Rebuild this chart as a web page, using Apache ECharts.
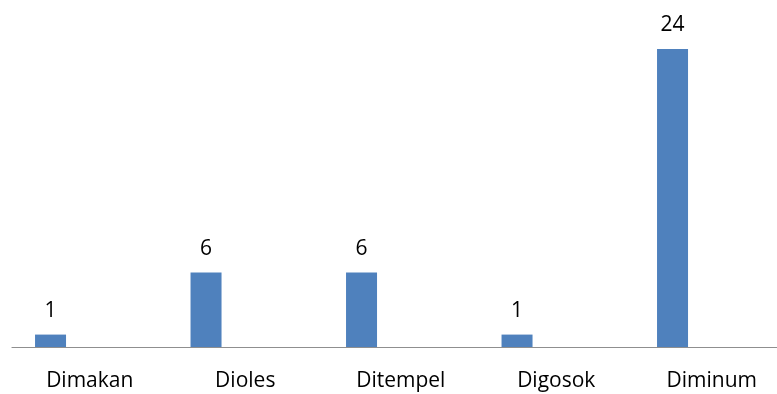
<!DOCTYPE html>
<html>
<head>
<meta charset="utf-8">
<script src="https://cdn.jsdelivr.net/npm/echarts@6/dist/echarts.min.js"></script>
<style>
  html, body { margin: 0; padding: 0; background: #ffffff; overflow: hidden; }
  /* the plot area runs a little past the right edge of the window */
  #chart { width: 790px; height: 394px; }
</style>
</head>
<body>
<div id="chart"></div>
<script>
// Cara penggunaan
const categories = ['Dimakan', 'Dioles', 'Ditempel', 'Digosok', 'Diminum'];
const counts = [1, 6, 6, 1, 24];
const emptySeries = [null, null, null, null, null];

const chart = echarts.init(document.getElementById('chart'), null, { renderer: 'canvas' });
const fontFamily = '"Open Sans", sans-serif';

chart.setOption({
  animation: false,
  backgroundColor: '#ffffff',
  grid: { left: 12, right: 0.5, top: 49, bottom: 47, containLabel: false },
  xAxis: {
    type: 'category',
    data: categories,
    axisLine: { show: true, lineStyle: { color: '#8f8f8f', width: 1.2 } },
    axisTick: { show: false },
    axisLabel: { color: '#000000', fontSize: 21, fontFamily: fontFamily, margin: 24, interval: 0 },
    splitLine: { show: false }
  },
  yAxis: {
    type: 'value',
    min: 0,
    max: 24,
    show: false
  },
  series: [
    {
      type: 'bar',
      data: counts,
      barWidth: 31,
      barGap: '153%',
      itemStyle: { color: '#4f81bd' },
      label: {
        show: true,
        position: 'top',
        distance: 13,
        color: '#000000',
        fontSize: 21,
        fontFamily: fontFamily
      }
    },
    {
      type: 'bar',
      data: emptySeries,
      barWidth: 31,
      itemStyle: { color: '#c0504d' }
    }
  ]
});
</script>
</body>
</html>
